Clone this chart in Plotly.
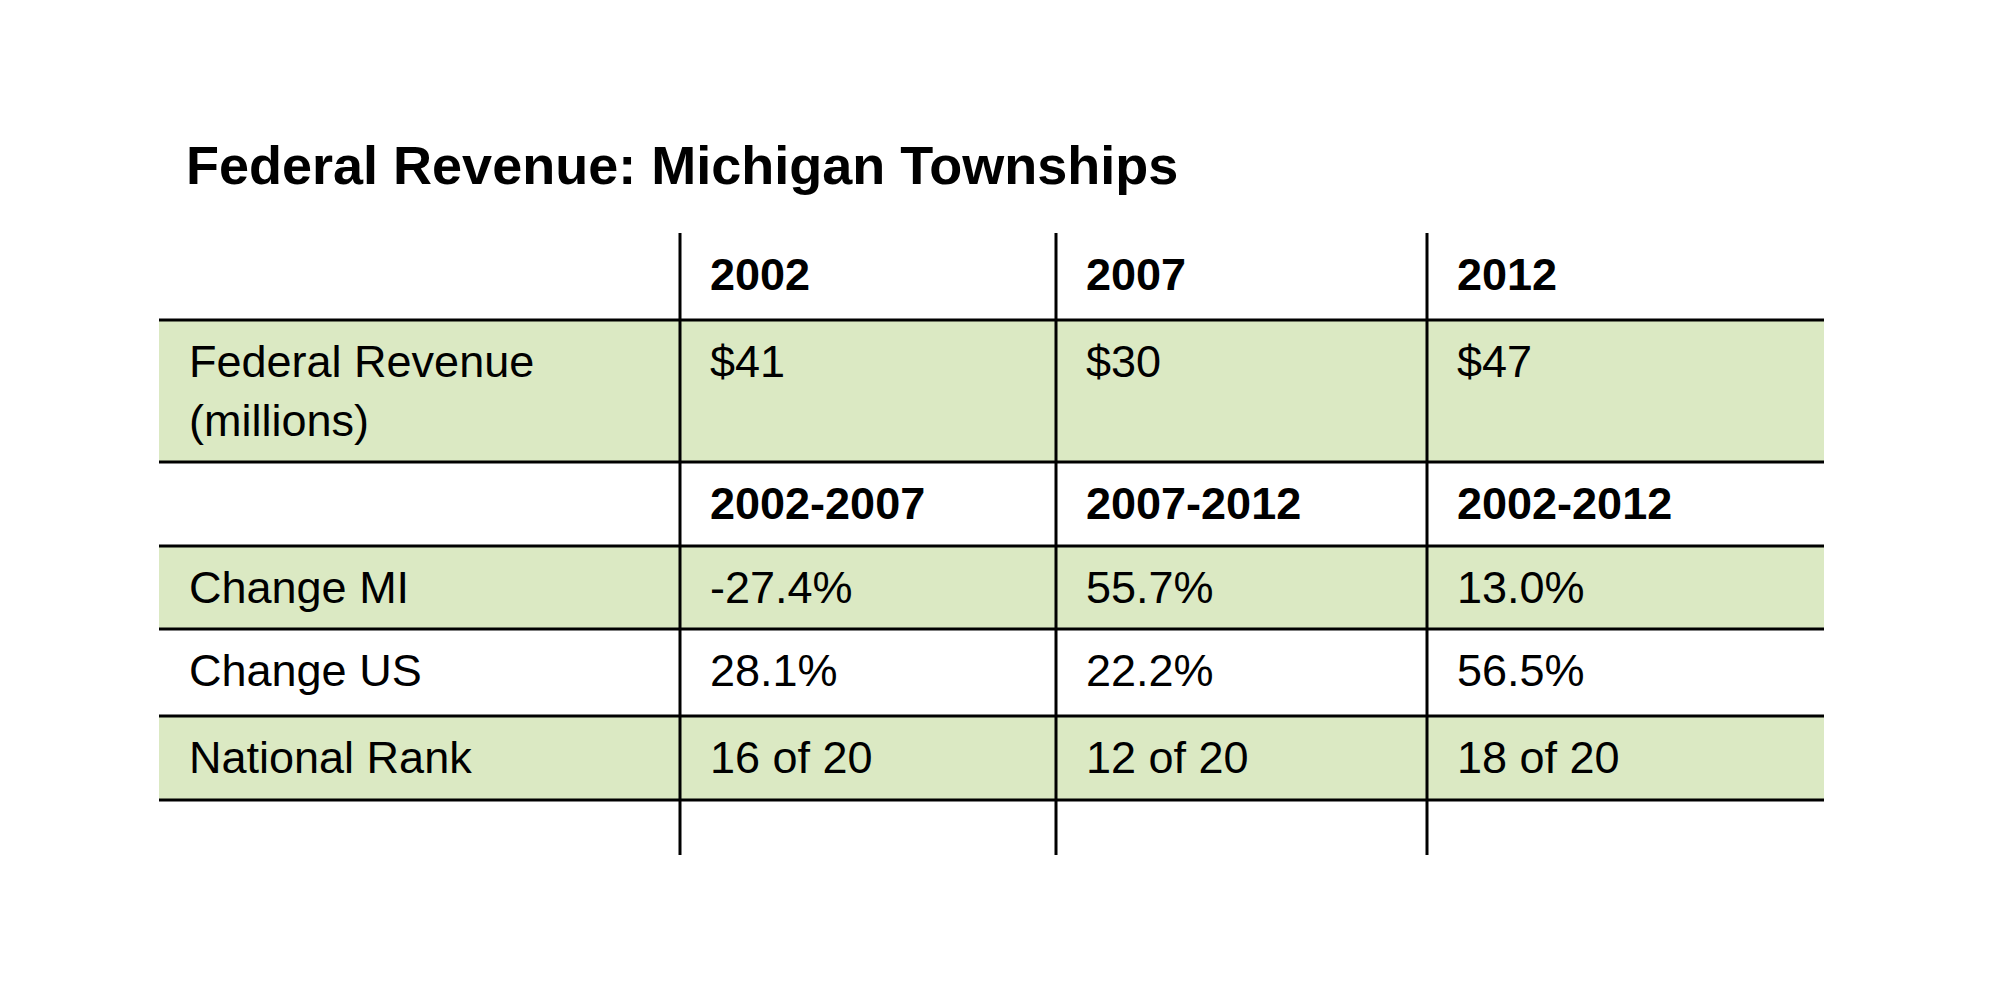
import plotly.graph_objects as go

title = "Federal Revenue: Michigan Townships"
years = ["2002", "2007", "2012"]
revenue = ["$41", "$30", "$47"]
periods = ["2002-2007", "2007-2012", "2002-2012"]
change_mi = ["-27.4%", "55.7%", "13.0%"]
change_us = ["28.1%", "22.2%", "56.5%"]
rank = ["16 of 20", "12 of 20", "18 of 20"]
row_labels = ["", "Federal Revenue<br>(millions)", "", "Change MI", "Change US", "National Rank"]

rows = [years, revenue, periods, change_mi, change_us, rank]
bold_rows = [0, 2]
green_rows = [1, 3, 5]

W, H = 2001, 1001
left, right = 151, 1816
col_x = [672, 1048, 1419]
hlines = [312, 454, 538, 621, 708, 792]
row_bounds = [(225, 312), (312, 454), (454, 538), (538, 621), (621, 708), (708, 792)]
GREEN = "#dbe9c3"
FONT = "Liberation Sans, Arial, sans-serif"

fig = go.Figure()
shapes = []
for i in green_rows:
    y0, y1 = row_bounds[i]
    shapes.append(dict(type="rect", x0=left, x1=right, y0=y0, y1=y1, fillcolor=GREEN,
                       line=dict(width=0), layer="below"))
for y in hlines:
    shapes.append(dict(type="line", x0=left, x1=right, y0=y, y1=y, line=dict(color="black", width=3)))
for x in col_x:
    shapes.append(dict(type="line", x0=x, x1=x, y0=225, y1=847, line=dict(color="black", width=3)))

ann = [dict(x=176, y=157, text="<b>" + title + "</b>", showarrow=False, xanchor="left", yanchor="middle",
            font=dict(family=FONT, size=54, color="black"))]
for i, (vals, lab) in enumerate(zip(rows, row_labels)):
    y0, y1 = row_bounds[i]
    ytop = y0 + 14
    if lab:
        ann.append(dict(x=179, y=ytop, text=lab, showarrow=False, xanchor="left", yanchor="top",
                        align="left", font=dict(family=FONT, size=45, color="black")))
    for j, v in enumerate(vals):
        t = "<b>" + v + "</b>" if i in bold_rows else v
        ann.append(dict(x=col_x[j] + 28, y=ytop, text=t, showarrow=False, xanchor="left", yanchor="top",
                        font=dict(family=FONT, size=45, color="black")))

fig.update_layout(width=W, height=H, margin=dict(l=0, r=0, t=0, b=0), plot_bgcolor="white",
                  paper_bgcolor="white", shapes=shapes, annotations=ann, showlegend=False,
                  xaxis=dict(range=[0, W], visible=False, fixedrange=True),
                  yaxis=dict(range=[H, 0], visible=False, fixedrange=True))
fig.write_html("out.html")
